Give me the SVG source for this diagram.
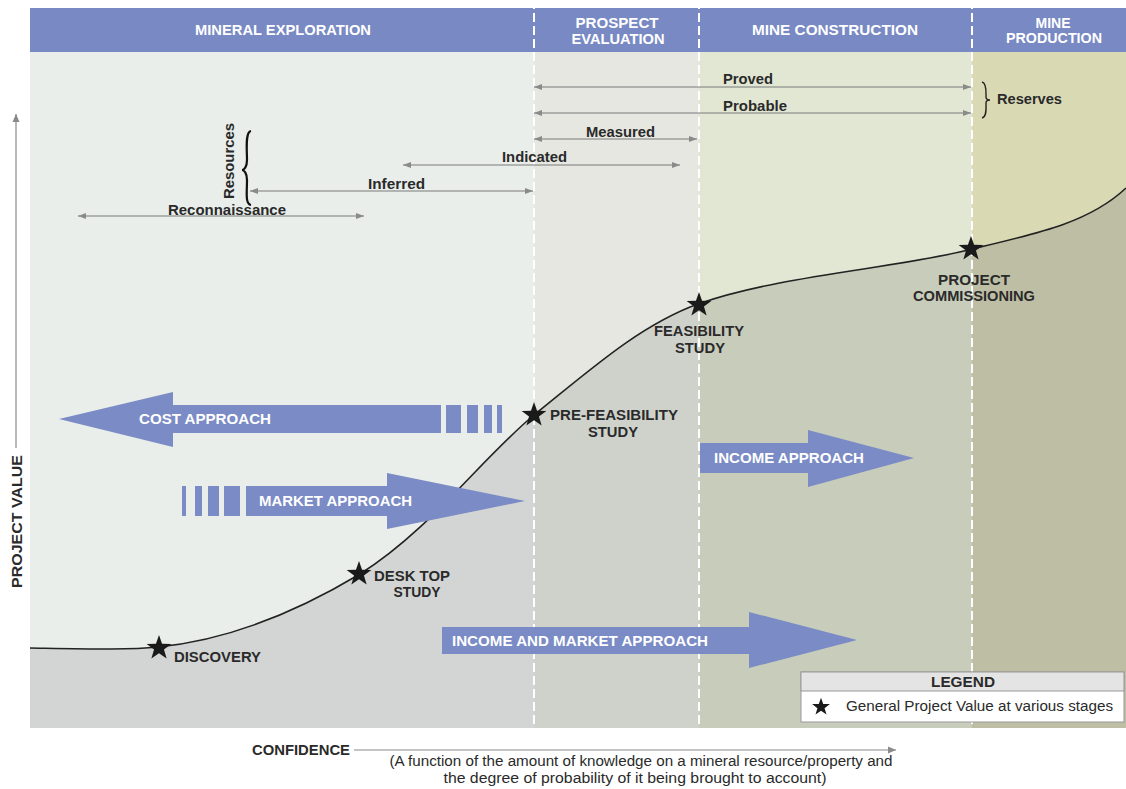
<svg xmlns="http://www.w3.org/2000/svg" width="1126" height="789" viewBox="0 0 1126 789">
<style>
.hdr{font-family:"Liberation Sans",Arial,sans-serif;font-size:14px;font-weight:bold;fill:#ffffff;text-anchor:middle}
.lbl{font-family:"Liberation Sans",Arial,sans-serif;font-size:14px;font-weight:bold;fill:#2a2a2a}
.arr{font-family:"Liberation Sans",Arial,sans-serif;font-size:14px;font-weight:bold;fill:#ffffff}
.nrm{font-family:"Liberation Sans",Arial,sans-serif;font-size:14px;fill:#2a2a2a}
.rng{stroke:#7a7a7a;stroke-width:1;fill:none;marker-start:url(#ah);marker-end:url(#ah)}
.sep{stroke:#ffffff;stroke-width:2;stroke-dasharray:9 4;fill:none}
.blue{fill:#7a8bc5}
</style>
<defs>
<marker id="ah" viewBox="0 0 8 6" refX="8" refY="3" markerWidth="8" markerHeight="6" markerUnits="userSpaceOnUse" orient="auto-start-reverse">
<path d="M0,0 L8,3 L0,6 Z" fill="#8a8a8a"/>
</marker>
<marker id="ax" viewBox="0 0 8 8" refX="8" refY="4" markerWidth="8" markerHeight="8" markerUnits="userSpaceOnUse" orient="auto">
<path d="M0,0.5 L8,4 L0,7.5 Z" fill="#8a8a8a"/>
</marker>
<path id="star" d="M0,-13 L3.06,-4.21 L12.36,-4.02 L4.95,1.61 L7.64,10.52 L0,5.2 L-7.64,10.52 L-4.95,1.61 L-12.36,-4.02 L-3.06,-4.21 Z" fill="#1a1a1a"/>
<path id="under" d="M30,648 C90,649 130,650 158,647 C230,640 300,610 360,574 C430,530 480,460 534,415 C590,370 640,325 698,304 C780,275 900,268 972,249 C1040,233 1090,222 1126,188 L1126,728 L30,728 Z"/>
<clipPath id="c1"><rect x="30" y="52" width="504" height="676"/></clipPath>
<clipPath id="c2"><rect x="534" y="52" width="165" height="676"/></clipPath>
<clipPath id="c3"><rect x="699" y="52" width="273" height="676"/></clipPath>
<clipPath id="c4"><rect x="972" y="52" width="154" height="676"/></clipPath>
</defs>
<rect width="1126" height="789" fill="#ffffff"/>
<g id="background">
<rect x="30" y="52" width="504" height="676" fill="#e9eeea"/>
<rect x="534" y="52" width="165" height="676" fill="#e5e7e0"/>
<rect x="699" y="52" width="273" height="676" fill="#e1e7d3"/>
<rect x="972" y="52" width="154" height="676" fill="#d9d9b4"/>
<use href="#under" clip-path="url(#c1)" fill="#d3d5d4"/>
<use href="#under" clip-path="url(#c2)" fill="#cfd2cb"/>
<use href="#under" clip-path="url(#c3)" fill="#c8ccba"/>
<use href="#under" clip-path="url(#c4)" fill="#bdbea3"/>
<path d="M30,648 C90,649 130,650 158,647 C230,640 300,610 360,574 C430,530 480,460 534,415 C590,370 640,325 698,304 C780,275 900,268 972,249 C1040,233 1090,222 1126,188" fill="none" stroke="#222" stroke-width="1.6"/>
</g>
<g id="header">
<rect x="30" y="8" width="1096" height="44" fill="#7889c3"/>
<text class="hdr" x="283" y="35" textLength="176" lengthAdjust="spacingAndGlyphs">MINERAL EXPLORATION</text>
<text class="hdr" x="617" y="28" textLength="83" lengthAdjust="spacingAndGlyphs">PROSPECT</text>
<text class="hdr" x="618" y="44" textLength="93" lengthAdjust="spacingAndGlyphs">EVALUATION</text>
<text class="hdr" x="835" y="35" textLength="166" lengthAdjust="spacingAndGlyphs">MINE CONSTRUCTION</text>
<text class="hdr" x="1053" y="28" textLength="35" lengthAdjust="spacingAndGlyphs">MINE</text>
<text class="hdr" x="1054" y="43" textLength="96" lengthAdjust="spacingAndGlyphs">PRODUCTION</text>
</g>
<g id="separators">
<line class="sep" x1="534" y1="0" x2="534" y2="728"/>
<line class="sep" x1="699" y1="0" x2="699" y2="728"/>
<line class="sep" x1="972" y1="0" x2="972" y2="728"/>
</g>
<g id="connectors">
<line class="rng" x1="534" y1="87" x2="971" y2="87"/>
<line class="rng" x1="534" y1="113" x2="971" y2="113"/>
<line class="rng" x1="534" y1="139" x2="697" y2="139"/>
<line class="rng" x1="403" y1="165" x2="680" y2="165"/>
<line class="rng" x1="250" y1="191" x2="533" y2="191"/>
<line class="rng" x1="78" y1="216" x2="364" y2="216"/>
<line x1="16" y1="448" x2="16" y2="114" stroke="#8a8a8a" stroke-width="1.2" marker-end="url(#ax)"/>
<line x1="354" y1="750" x2="896" y2="750" stroke="#8a8a8a" stroke-width="1.2" marker-end="url(#ax)"/>
</g>
<g id="range-labels">
<text class="lbl" x="723" y="84" textLength="50" lengthAdjust="spacingAndGlyphs">Proved</text>
<text class="lbl" x="723" y="111" textLength="64" lengthAdjust="spacingAndGlyphs">Probable</text>
<text class="lbl" x="586" y="137" textLength="69" lengthAdjust="spacingAndGlyphs">Measured</text>
<text class="lbl" x="502" y="162" textLength="65" lengthAdjust="spacingAndGlyphs">Indicated</text>
<text class="lbl" x="368" y="189" textLength="57" lengthAdjust="spacingAndGlyphs">Inferred</text>
<text class="lbl" x="168" y="215" textLength="118" lengthAdjust="spacingAndGlyphs">Reconnaissance</text>
<text class="lbl" x="0" y="0" transform="translate(234,199) rotate(-90)" textLength="76" lengthAdjust="spacingAndGlyphs">Resources</text>
<path d="M251,131 C245,132 247,150 247,160 C247,167 244,170 242,170 C244,170 247,173 247,180 C247,192 245,204 251,205" fill="none" stroke="#111" stroke-width="2.2"/>
<path d="M982,82 C987,83 986,93 986,97 C986,99 988,100 990,100 C988,100 986,101 986,103 C986,108 987,117 982,118" fill="none" stroke="#222" stroke-width="1.4"/>
<text class="lbl" x="997" y="104" textLength="65" lengthAdjust="spacingAndGlyphs">Reserves</text>
</g>
<g id="cost-approach">
<path class="blue" d="M59,419 L173,392 L173,405 L441,405 L441,433 L173,433 L173,447 Z"/>
<rect class="blue" x="446" y="405" width="15" height="28"/>
<rect class="blue" x="467" y="405" width="11" height="28"/>
<rect class="blue" x="484" y="405" width="8" height="28"/>
<rect class="blue" x="497" y="405" width="5" height="28"/>
<text class="arr" x="139" y="424" textLength="132" lengthAdjust="spacingAndGlyphs">COST APPROACH</text>
</g>
<g id="market-approach">
<rect class="blue" x="182" y="486" width="4" height="30"/>
<rect class="blue" x="195" y="486" width="7" height="30"/>
<rect class="blue" x="208" y="486" width="11" height="30"/>
<rect class="blue" x="224" y="486" width="16" height="30"/>
<path class="blue" d="M246,486 L387,486 L387,473 L525,501 L387,529 L387,516 L246,516 Z"/>
<text class="arr" x="259" y="506" textLength="153" lengthAdjust="spacingAndGlyphs">MARKET APPROACH</text>
</g>
<g id="income-approach">
<path class="blue" d="M700,443 L808,443 L808,430 L914,458 L808,487 L808,473 L700,473 Z"/>
<text class="arr" x="714" y="463" textLength="150" lengthAdjust="spacingAndGlyphs">INCOME APPROACH</text>
</g>
<g id="income-market-approach">
<path class="blue" d="M442,627 L749,627 L749,612 L857,640 L749,668 L749,654 L442,654 Z"/>
<text class="arr" x="452" y="646" textLength="256" lengthAdjust="spacingAndGlyphs">INCOME AND MARKET APPROACH</text>
</g>
<g id="discovery">
<use href="#star" x="159" y="648"/>
<text class="lbl" x="174" y="662" textLength="87" lengthAdjust="spacingAndGlyphs">DISCOVERY</text>
</g>
<g id="desk-top-study">
<use href="#star" x="359" y="574"/>
<text class="lbl" x="374" y="581" textLength="76" lengthAdjust="spacingAndGlyphs">DESK TOP</text>
<text class="lbl" x="417" y="597" text-anchor="middle" textLength="47" lengthAdjust="spacingAndGlyphs">STUDY</text>
</g>
<g id="pre-feasibility-study">
<use href="#star" x="534" y="415"/>
<text class="lbl" x="550" y="420" textLength="128" lengthAdjust="spacingAndGlyphs">PRE-FEASIBILITY</text>
<text class="lbl" x="613" y="437" text-anchor="middle" textLength="50" lengthAdjust="spacingAndGlyphs">STUDY</text>
</g>
<g id="feasibility-study">
<use href="#star" x="699" y="305"/>
<text class="lbl" x="699" y="336" text-anchor="middle" textLength="90" lengthAdjust="spacingAndGlyphs">FEASIBILITY</text>
<text class="lbl" x="700" y="353" text-anchor="middle" textLength="50" lengthAdjust="spacingAndGlyphs">STUDY</text>
</g>
<g id="project-commissioning">
<use href="#star" x="971" y="249"/>
<text class="lbl" x="974" y="285" text-anchor="middle" textLength="72" lengthAdjust="spacingAndGlyphs">PROJECT</text>
<text class="lbl" x="974" y="301" text-anchor="middle" textLength="122" lengthAdjust="spacingAndGlyphs">COMMISSIONING</text>
</g>
<g id="legend">
<rect x="801" y="672" width="323" height="50" fill="#ffffff" stroke="#999" stroke-width="1"/>
<rect x="801" y="672" width="323" height="19" fill="#e4e4e4" stroke="#999" stroke-width="1"/>
<text class="lbl" x="963" y="687" text-anchor="middle" textLength="64" lengthAdjust="spacingAndGlyphs">LEGEND</text>
<use href="#star" transform="translate(821,707) scale(0.72)"/>
<text class="nrm" x="846" y="711" textLength="267" lengthAdjust="spacingAndGlyphs">General Project Value at various stages</text>
</g>
<g id="axes">
<text class="lbl" x="0" y="0" transform="translate(22,588) rotate(-90)" textLength="133" lengthAdjust="spacingAndGlyphs">PROJECT VALUE</text>
<text class="lbl" x="252" y="755" textLength="98" lengthAdjust="spacingAndGlyphs">CONFIDENCE</text>
<text class="nrm" x="641" y="766" text-anchor="middle" textLength="503" lengthAdjust="spacingAndGlyphs">(A function of the amount of knowledge on a mineral resource/property and</text>
<text class="nrm" x="635" y="783" text-anchor="middle" textLength="383" lengthAdjust="spacingAndGlyphs">the degree of probability of it being brought to account)</text>
</g>
</svg>
